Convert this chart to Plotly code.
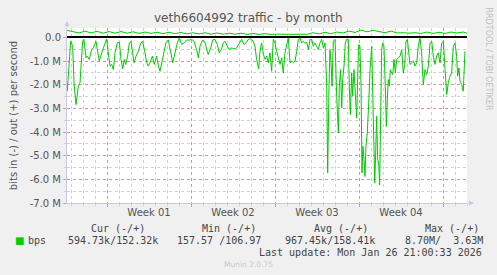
import plotly.graph_objects as go

# time in days relative to Monday 2025-12-29 00:00 (start of Week 01)
in_days = [-3.31, -3.14, -3.03, -2.86, -2.75, -2.58, -2.39, -2.25, -2.11, -2.03, -1.92, -1.75, -1.64, -1.48,
           -1.28, -1.14, -0.92, -0.81, -0.64, -0.44, -0.25, -0.03, 0.11, 0.25, 0.39, 0.53, 0.67, 0.86, 1.03,
           1.17, 1.31, 1.44, 1.56, 1.72, 1.86, 2.0, 2.14, 2.25, 2.42, 2.61, 2.81, 2.97, 3.17, 3.31, 3.44,
           3.58, 3.78, 3.94, 4.14, 4.28, 4.42, 4.56, 4.75, 4.92, 5.11, 5.31, 5.48, 5.67, 5.86, 6.03, 6.22,
           6.42, 6.64, 6.86, 7.06, 7.25, 7.47, 7.61, 7.75, 7.97, 8.17, 8.31, 8.44, 8.64, 8.81, 9.0, 9.19,
           9.36, 9.53, 9.69, 9.83, 10.03, 10.19, 10.39, 10.58, 10.81, 11.03, 11.22, 11.42, 11.58, 11.78,
           11.97, 12.19, 12.33, 12.47, 12.64, 12.75, 12.89, 13.03, 13.17, 13.31, 13.44, 13.58, 13.72, 13.86,
           14.0, 14.14, 14.28, 14.42, 14.56, 14.69, 14.83, 14.97, 15.11, 15.25, 15.39, 15.53, 15.67, 15.81,
           15.94, 16.08, 16.22, 16.36, 16.5, 16.64, 16.78, 16.92, 17.06, 17.19, 17.33, 17.47, 17.61, 17.75,
           17.89, 18.03, 18.17, 18.31, 18.39, 18.5, 18.58, 18.67, 18.75, 18.86, 19.0, 19.14, 19.28, 19.36,
           19.47, 19.56, 19.64, 19.75, 19.86, 19.97, 20.11, 20.19, 20.28, 20.39, 20.47, 20.58, 20.67, 20.75,
           20.81, 20.89, 20.97, 21.08, 21.17, 21.25, 21.33, 21.42, 21.5, 21.58, 21.69, 21.81, 21.92, 22.06,
           22.14, 22.22, 22.31, 22.39, 22.47, 22.56, 22.64, 22.72, 22.81, 22.89, 22.97, 23.08, 23.19, 23.28,
           23.36, 23.44, 23.53, 23.61, 23.72, 23.81, 23.92, 24.03, 24.14, 24.28, 24.42, 24.56, 24.69, 24.81,
           24.92, 25.03, 25.14, 25.25, 25.39, 25.53, 25.67, 25.81, 25.94, 26.08, 26.22, 26.36, 26.5, 26.64,
           26.78, 26.92, 27.06, 27.19, 27.33, 27.47, 27.61, 27.75, 27.89, 28.03, 28.17, 28.31, 28.44, 28.58,
           28.72, 28.86, 29.0, 29.14, 29.22, 29.33, 29.42, 29.56, 29.69, 29.83]
in_mbps = [-2.27, -0.65, -0.16, -0.37, -1.92, -2.84, -2.06, -1.92, -0.93, -0.16, -0.08, -0.86, -0.79, -0.93,
           -0.51, -0.44, -0.16, -0.51, -1.00, -0.65, -0.37, -0.06, -0.65, -1.21, -1.14, -1.36, -0.65, -0.23, -0.20,
           -0.93, -1.33, -0.93, -1.14, -0.79, -0.23, -0.16, -0.65, -1.07, -0.79, -0.58, -0.25, -0.16, -0.65, -1.07, -1.21,
           -1.07, -0.79, -1.14, -0.79, -1.21, -1.43, -1.07, -0.51, -0.20, -0.11, -0.65, -1.07, -0.65, -0.23, -0.01, -0.30,
           -0.23, -0.11, -0.11, -0.08, -0.16, -0.51, -0.86, -0.37, -0.11, -0.20, -0.51, -0.72, -0.44, -0.11, -0.08, -0.30,
           -0.65, -0.51, -0.23, -0.16, -0.37, -0.51, -0.44, -0.48, -0.44, -0.23, -0.08, -0.30, -0.23, -0.08,
           -0.06, -0.16, -0.37, -0.93, -1.33, -0.58, -0.23, -0.72, -0.93, -0.79, -1.07, -0.65, -1.43, -0.08,
           -0.23, -0.58, -0.93, -1.14, -0.86, -1.50, -0.65, -0.37, -0.01, -1.07, -1.00, -1.07, -1.00, -0.58,
           -0.11, -0.01, -0.23, -0.16, -0.25, -0.20, -0.51, -0.08, -0.08, -0.37, -0.23, -0.37, -0.51, -0.23,
           -0.08, -0.44, -0.23, -2.06, -5.73, -2.06, -0.51, -1.07, -2.06, -0.16, -0.08, -2.49, -4.04, -2.06,
           -1.36, -2.98, -1.78, -1.21, -0.23, -0.08, -0.08, -2.06, -3.26, -1.50, -2.49, -1.36, -2.06, -2.91,
           -3.40, -1.71, -0.30, -0.37, -2.06, -5.73, -4.60, -5.17, -5.88, -4.60, -4.04, -2.77, -1.36, -0.37,
           -2.06, -4.60, -6.16, -4.89, -3.33, -5.17, -5.31, -6.23, -3.47, -0.51, -0.23, -0.37, -2.06, -3.76,
           -2.63, -1.78, -2.06, -1.36, -1.50, -1.57, -0.93, -1.50, -0.93, -0.86, -0.79, -0.51, -1.50, -1.14,
           -0.16, -0.08, -0.65, -1.14, -1.07, -1.00, -1.21, -1.07, -0.37, -0.01, -0.65, -1.99, -1.36, -1.57,
           -1.21, -0.23, -0.16, -0.79, -1.14, -0.79, -0.65, -1.07, -0.23, -0.16, -1.36, -2.42, -1.92, -1.64,
           -1.50, -0.37, -0.23, -0.79, -1.64, -1.29, -1.85, -1.99, -2.27, -0.58]

out_start_day = -3.33
out_step_day = 0.5
out_mbps = [0.30, 0.26, 0.19, 0.27, 0.19, 0.26, 0.18, 0.25, 0.18, 0.25, 0.18, 0.24, 0.17, 0.23, 0.17,
            0.22, 0.16, 0.22, 0.16, 0.21, 0.15, 0.20, 0.15, 0.20, 0.14, 0.19, 0.14, 0.18, 0.14, 0.18,
            0.13, 0.17, 0.13, 0.16, 0.13, 0.14, 0.13, 0.13, 0.13, 0.14, 0.13, 0.20, 0.15, 0.22, 0.16,
            0.23, 0.19, 0.27, 0.21, 0.31, 0.24, 0.30, 0.26, 0.20, 0.27, 0.19, 0.20, 0.18, 0.20, 0.17,
            0.23, 0.17, 0.22, 0.17, 0.23, 0.19, 0.23, 0.15]
out_days = [out_start_day + i * out_step_day for i in range(len(out_mbps))]

week_bounds = [0, 7, 14, 21, 28]
week_mid = [3.5, 10.5, 17.5, 24.5]
week_labels = ["Week 01", "Week 02", "Week 03", "Week 04"]
y_ticks = [0, -1, -2, -3, -4, -5, -6, -7]
y_labels = ["0.0", "-1.0 M", "-2.0 M", "-3.0 M", "-4.0 M", "-5.0 M", "-6.0 M", "-7.0 M"]

legend_heads = ["Cur (-/+)", "Min (-/+)", "Avg (-/+)", "Max (-/+)"]
legend_vals = ["594.73k/152.32k", "157.57 /106.97", "967.45k/158.41k", "8.70M/  3.63M"]

GREEN = "#00CC00"
W, H = 497, 275
L, R, T, B = 67, 30, 28, 72
PW, PH = W - L - R, H - T - B

def px(x):
    return (x - L) / PW

def py(y):
    return 1 - (y - T) / PH

fig = go.Figure()
fig.add_trace(go.Scatter(x=in_days, y=in_mbps, mode="lines", line=dict(color=GREEN, width=1), showlegend=False))
fig.add_trace(go.Scatter(x=out_days, y=out_mbps, mode="lines", line=dict(color=GREEN, width=1), showlegend=False))
# empty trace so the week-label axis is drawn
fig.add_trace(go.Scatter(x=[], y=[], xaxis="x2", yaxis="y", showlegend=False, hoverinfo="skip"))

grid_red = "rgba(230,120,120,0.75)"
grid_grey = "#cfcfcf"
axis_col = "#c8c8e8"
tickfont = dict(family="DejaVu Sans", size=10, color="#555555")

fig.update_layout(
    width=W, height=H,
    margin=dict(l=L, r=R, t=T, b=B),
    paper_bgcolor="#F0F0F0", plot_bgcolor="white",
    xaxis=dict(range=[-3.333, 30], tickvals=week_bounds, showticklabels=False,
               showgrid=True, gridcolor=grid_red, griddash="dot", gridwidth=1,
               ticks="outside", ticklen=3, tickcolor=grid_red,
               minor=dict(dtick=1, tick0=0, showgrid=True, gridcolor=grid_grey, griddash="dot",
                          ticks="outside", ticklen=2, tickcolor=grid_grey),
               showline=True, linecolor=axis_col, linewidth=1, zeroline=False, fixedrange=True),
    xaxis2=dict(overlaying="x", anchor="y", side="bottom", range=[-3.333, 30],
                tickvals=week_mid, ticktext=week_labels, showgrid=False, ticks="", showline=False,
                zeroline=False, tickfont=tickfont, ticklabelstandoff=2),
    yaxis=dict(range=[-7.0, 0.4], tickvals=y_ticks, ticktext=y_labels, tickfont=tickfont,
               showgrid=True, gridcolor=grid_red, griddash="dot", gridwidth=1,
               ticks="outside", ticklen=3, tickcolor=grid_red,
               minor=dict(dtick=0.5, tick0=0, showgrid=True, gridcolor=grid_grey, griddash="dot",
                          ticks="outside", ticklen=2, tickcolor=grid_grey),
               showline=True, linecolor=axis_col, linewidth=1,
               zeroline=True, zerolinecolor="black", zerolinewidth=1.5,
               title=dict(text="bits in (-) / out (+) per second", standoff=10,
                          font=dict(family="DejaVu Sans", size=10, color="#555555"))),
    showlegend=False,
)

ann = []
ann.append(dict(text="veth6604992 traffic - by month", x=px(248), y=py(18), xref="paper", yref="paper",
                showarrow=False, xanchor="center", yanchor="middle",
                font=dict(family="DejaVu Sans", size=12, color="#555555")))
ann.append(dict(text="RRDTOOL / TOBI OETIKER", x=px(488), y=py(5), xref="paper", yref="paper",
                showarrow=False, xanchor="center", yanchor="top", textangle=90,
                font=dict(family="DejaVu Sans", size=8, color="#c0c0c0")))
head_x = [89, 200, 312, 423]
for hx, h in zip(head_x, legend_heads):
    ann.append(dict(text=h, x=px(hx), y=py(228), xref="paper", yref="paper", showarrow=False,
                    xanchor="left", yanchor="middle",
                    font=dict(family="DejaVu Sans Mono", size=10, color="#444444")))
val_x = [66, 175, 283, 403]
for vx, v in zip(val_x, legend_vals):
    ann.append(dict(text=v.replace(" ", "&nbsp;"), x=px(vx), y=py(240), xref="paper", yref="paper", showarrow=False,
                    xanchor="left", yanchor="middle",
                    font=dict(family="DejaVu Sans Mono", size=10, color="#444444")))
ann.append(dict(text="■", x=px(13), y=py(240), xref="paper", yref="paper", showarrow=False,
                xanchor="left", yanchor="middle", font=dict(family="DejaVu Sans", size=10, color=GREEN)))
ann.append(dict(text="bps", x=px(26), y=py(240), xref="paper", yref="paper", showarrow=False,
                xanchor="left", yanchor="middle",
                font=dict(family="DejaVu Sans Mono", size=10, color="#444444")))
ann.append(dict(text="Last update: Mon Jan 26 21:00:33 2026", x=px(484), y=py(252), xref="paper", yref="paper",
                showarrow=False, xanchor="right", yanchor="middle",
                font=dict(family="DejaVu Sans Mono", size=10, color="#444444")))
ann.append(dict(text="Munin 2.0.75", x=px(248), y=py(264), xref="paper", yref="paper", showarrow=False,
                xanchor="center", yanchor="middle",
                font=dict(family="DejaVu Sans", size=7.5, color="#c8c8c8")))
# axis arrows
ann.append(dict(text="", x=px(474), y=0, xref="paper", yref="paper", showarrow=True, ax=-8, ay=0,
                arrowhead=2, arrowsize=1, arrowwidth=1, arrowcolor=axis_col))
ann.append(dict(text="", x=0, y=py(21), xref="paper", yref="paper", showarrow=True, ax=0, ay=8,
                arrowhead=2, arrowsize=1, arrowwidth=1, arrowcolor=axis_col))
fig.update_layout(annotations=ann)

fig.write_html("out.html")
